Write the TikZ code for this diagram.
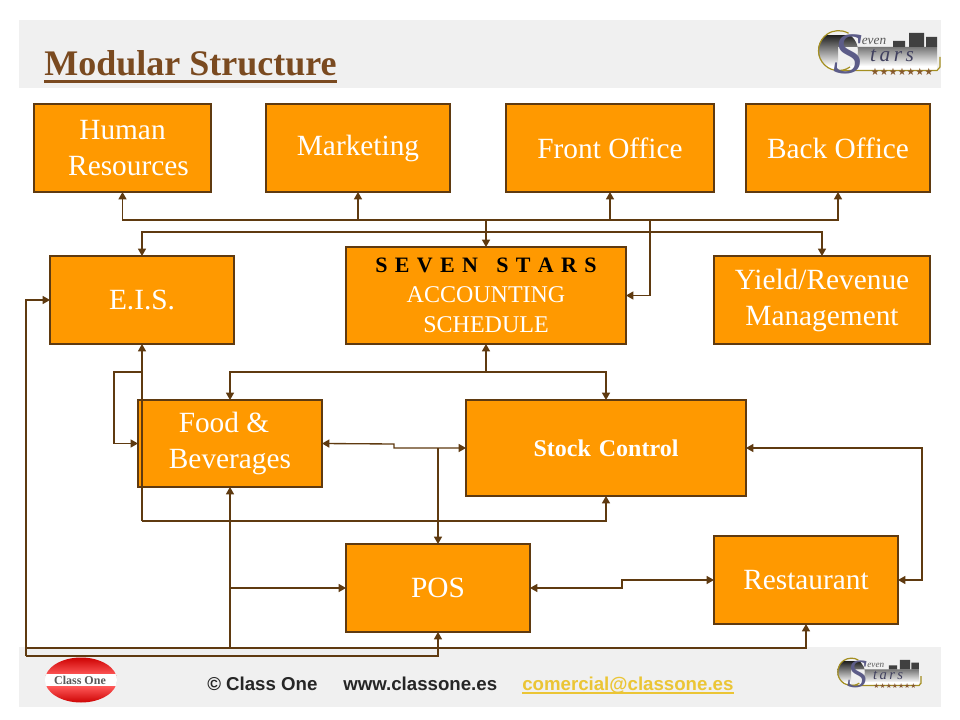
\documentclass[tikz,border=0pt]{standalone}
\usepackage{fontspec}
\setmainfont{Liberation Serif}
\newfontfamily\arialf{Liberation Sans}
\newfontfamily\starf{DejaVu Sans}
\usetikzlibrary{arrows.meta}
\definecolor{boxfill}{HTML}{FF9900}
\definecolor{linec}{HTML}{5F3A10}
\definecolor{band}{HTML}{F0F0F0}
\definecolor{titlec}{HTML}{7A4A20}
\definecolor{mailc}{HTML}{EBC535}
\definecolor{logoS}{HTML}{5C5C88}
\newcommand{\lbl}[1]{\fontsize{#1}{#1}\selectfont}
\tikzset{
  x=.75pt,y=-.75pt,
  modbox/.style={draw=linec,fill=boxfill,line width=1pt,inner sep=0pt,outer sep=0pt,text=white,align=center,
    font=\fontsize{22pt}{27pt}\selectfont},
  smallbox/.style={modbox,font=\fontsize{18pt}{22.5pt}\selectfont},
  conn/.style={draw=linec,line width=1pt},
  tip/.style={conn,-{Triangle[length=5.5pt,width=6pt]}},
  bitip/.style={conn,{Triangle[length=5.5pt,width=6pt]}-{Triangle[length=5.5pt,width=6pt]}},
  foot/.style={anchor=base west,inner sep=0pt,font=\arialf\bfseries\fontsize{14pt}{14pt}\selectfont,text=black!85},
  sevenlogo/.pic={
    \begin{scope}
      \clip (38,41) circle (20) (38,37) rectangle (137,60);
      \shade[top color=black!85,middle color=blue!75!black,bottom color=white,shading angle=0]
        (10,26) rectangle (140,56);
      \fill[white] (10,56) rectangle (140,80);
    \end{scope}
    \fill[black!75] (93,31) rectangle (105,37) (109,23) rectangle (124,37) (126,27) rectangle (137,37);
    \draw[draw=olive!60!brown,line width=.9pt] (50,57) arc[start angle=55,end angle=300,radius=20];
    \draw[draw=olive!60!brown,line width=.9pt] (35,60.5) -- (137,60.5) -- (140,57) -- (140,47);
    \node[inner sep=0pt,text=logoS,font=\fontsize{44pt}{44pt}\selectfont\itshape] (-s) at (48,44) {S};
    \node[inner sep=0pt,text=black!65,font=\fontsize{10pt}{10pt}\selectfont\itshape] (-even) at (74,31) {even};
    \node[inner sep=0pt,text=logoS!70!black,font=\fontsize{16pt}{16pt}\selectfont\itshape] (-tars) at (92,46) {t\,a\,r\,s};
    \node[inner sep=0pt,text=brown!70!black,font=\starf\fontsize{7.5pt}{8pt}\selectfont] (-stars) at (102,61.5) {★★★★★★★};
  }
}
\begin{document}
\begin{tikzpicture}
\useasboundingbox (0,0) rectangle (960,720);
\fill[white] (0,0) rectangle (960,720);
\fill[band] (19,20) rectangle (941,88);
\fill[band] (19,647) rectangle (941,707);
% title
\node[anchor=base west,inner sep=0pt,text=titlec,font=\bfseries\fontsize{27pt}{27pt}\selectfont] (title) at (44,76) {Modular Structure};
\draw[titlec,line width=2.2pt] ([yshift=-3.9pt]title.base west) -- ([yshift=-3.9pt]title.base east);
% boxes
\node[modbox,minimum width=177*.75pt,minimum height=88*.75pt] (hr) at (122.5,148) {Human\\\hspace*{9pt}Resources};
\node[modbox,minimum width=184*.75pt,minimum height=88*.75pt] (mk) at (358,148) {Marketing};
\node[modbox,minimum width=208*.75pt,minimum height=88*.75pt] (fo) at (610,148) {Front Office};
\node[modbox,minimum width=184*.75pt,minimum height=88*.75pt] (bo) at (838,148) {Back Office};
\node[modbox,minimum width=184*.75pt,minimum height=88*.75pt] (eis) at (142,300) {E.I.S.};
\node[smallbox,minimum width=280*.75pt,minimum height=97*.75pt] (sv) at (486,295.5) {{\color{black}\bfseries\fontsize{16.5pt}{22.5pt}\selectfont S\,\,E\,\,V\,\,E\,\,N\,\,\,\,\,S\,\,T\,\,A\,\,R\,\,S}\\ACCOUNTING\\SCHEDULE};
\node[modbox,minimum width=216*.75pt,minimum height=88*.75pt] (yr) at (822,300) {Yield/Revenue\\Management};
\node[modbox,minimum width=184*.75pt,minimum height=87*.75pt] (fb) at (230,443.5) {Food \&\hspace*{9pt}\\Beverages};
\node[modbox,minimum width=280*.75pt,minimum height=96*.75pt,font=\bfseries\fontsize{18pt}{22pt}\selectfont] (sc) at (606,448) {Stock\,\,Control};
\node[modbox,minimum width=184*.75pt,minimum height=88*.75pt] (pos) at (438,588) {POS};
\node[modbox,minimum width=184*.75pt,minimum height=88*.75pt] (rs) at (806,580) {Restaurant};
% junctions
\coordinate (bus) at (486,220);
\coordinate (busR) at (650,220);
\coordinate (bus2) at (486,232);
\coordinate (low) at (486,372);
\coordinate (eisLoop) at (142,372);
\coordinate (eisLoopL) at (114,372);
\coordinate (eisBus) at (142,521);
\coordinate (fs1) at (394,444);
\coordinate (fs2) at (394,448);
\coordinate (fsJ) at (438,448);
\coordinate (stR) at (922,448);
\coordinate (pr1) at (622,588);
\coordinate (pr2) at (622,580);
\coordinate (fbPos) at (230,588);
\coordinate (fbBot) at (230,648);
\coordinate (leftTop) at (26,300);
\coordinate (leftMid) at (26,648);
\coordinate (leftBot) at (26,656);
% connectors
\draw[tip] (bus) -| (hr.south);
\draw[tip] (bus) -| (mk.south);
\draw[tip] (bus) -| (fo.south);
\draw[tip] (bus) -| (bo.south);
\draw[tip] (bus) -- (sv.north);
\draw[tip] (busR) |- (sv.east);
\draw[tip] (bus2) -| (eis.north);
\draw[tip] (bus2) -| (yr.north);
\draw[tip] (eisBus) -- (eis.south);
\draw[tip] (eisBus) -| (sc.south);
\draw[tip] (eisLoop) -- (eisLoopL) |- (fb.west);
\draw[tip] (low) -- (sv.south);
\draw[tip] (low) -| (fb.north);
\draw[tip] (low) -| (sc.north);
\draw[bitip] (fb.east) -- (fs1) -- (fs2) -- (sc.west);
\draw[tip] (fsJ) -- (pos.north);
\draw[bitip] (sc.east) -- (stR) |- (rs.east);
\draw[bitip] (pos.east) -- (pr1) -- (pr2) -- (rs.west);
\draw[tip] (fbBot) -- (fb.south);
\draw[tip] (fbPos) -- (pos.west);
\draw[tip] (leftMid) -| (rs.south);
\draw[tip] (leftBot) -- (leftTop) -- (eis.west);
\draw[tip] (leftBot) -| (pos.south);
% footer
\node[foot] (cp) at (207,690) {© Class One};
\node[foot] (web) at (343,690) {www.classone.es};
\node[foot,text=mailc] (mail) at (522,690) {comercial@classone.es};
\draw[mailc,line width=1.2pt] ([yshift=-2.2pt]mail.base west) -- ([yshift=-2.2pt]mail.base east);
% class one logo
\begin{scope}
  \clip (81,680) ellipse (36 and 22.5);
  \shade[top color=red!80!black,bottom color=red!65!white] (45,657) rectangle (117,675);
  \shade[top color=red!65!white,bottom color=red!80!black] (45,686) rectangle (117,703);
  \fill[white] (45,674) rectangle (117,686);
\end{scope}
\node[inner sep=0pt,text=black!65,font=\bfseries\fontsize{9pt}{9pt}\selectfont] (cone) at (80,680) {Class One};
% seven stars logos
\pic (toplogo) at (800,10) {sevenlogo};
\pic[scale=.686,transform shape] (botlogo) at (825,644) {sevenlogo};
\end{tikzpicture}
\end{document}
